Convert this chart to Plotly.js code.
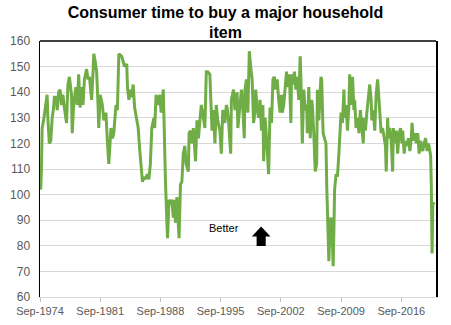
<!DOCTYPE html>
<html>
<head>
<meta charset="utf-8">
<script src="https://cdn.plot.ly/plotly-3.0.1.min.js"></script>
<style>
  html, body { margin: 0; padding: 0; background: #ffffff; }
  #chart { width: 451px; height: 325px; }
</style>
</head>
<body>
<div id="chart"></div>
<script>
const chartTitle = "Consumer time to buy a major household<br>item";
const annotationText = "Better";

const dates = [
  "1974-09","1974-10","1974-11","1974-12","1975-02","1975-04","1975-07","1975-08","1975-10","1975-12",
  "1976-02","1976-04","1976-05","1976-08","1976-09","1976-11","1977-01","1977-03","1977-05","1977-07",
  "1977-10","1977-12","1978-02","1978-05","1978-06","1978-08","1978-11","1979-01","1979-03","1979-05",
  "1979-07","1979-09","1979-11","1980-02","1980-04","1980-06","1980-09","1980-11","1980-12","1981-02",
  "1981-04","1981-06","1981-07","1981-09","1981-12","1982-02","1982-05","1982-07","1982-09","1982-12",
  "1983-02","1983-04","1983-07","1983-09","1983-11","1984-03","1984-05","1984-07","1984-10","1984-11",
  "1985-01","1985-03","1985-05","1985-07","1985-09","1985-11","1986-02","1986-04","1986-06","1986-08",
  "1986-10","1986-12","1987-03","1987-05","1987-07","1987-09","1987-12","1988-01","1988-03","1988-06",
  "1988-08","1988-10","1989-01","1989-02","1989-04","1989-06","1989-07","1989-09","1989-11","1990-01",
  "1990-03","1990-05","1990-06","1990-08","1990-10","1990-11","1991-01","1991-03","1991-05","1991-07",
  "1991-09","1991-12","1992-01","1992-03","1992-05","1992-07","1992-10","1992-12","1993-02","1993-04",
  "1993-06","1993-08","1993-11","1994-01","1994-03","1994-06","1994-07","1994-09","1994-11","1995-01",
  "1995-03","1995-05","1995-08","1995-10","1995-12","1996-03","1996-05","1996-06","1996-08","1996-11",
  "1996-12","1997-03","1997-05","1997-07","1997-08","1997-09","1997-12","1998-02","1998-04","1998-06",
  "1998-07","1998-09","1998-11","1999-01","1999-03","1999-05","1999-07","1999-08","1999-10","1999-12",
  "2000-02","2000-04","2000-06","2000-08","2000-09","2000-11","2001-01","2001-03","2001-04","2001-06",
  "2001-08","2001-10","2001-12","2002-02","2002-04","2002-06","2002-08","2002-10","2002-11","2003-01",
  "2003-03","2003-05","2003-07","2003-09","2003-11","2003-12","2004-02","2004-04","2004-06","2004-08",
  "2004-10","2004-12","2005-01","2005-03","2005-05","2005-07","2005-09","2005-10","2005-12","2006-02",
  "2006-04","2006-05","2006-07","2006-09","2006-11","2006-12","2007-02","2007-05","2007-06","2007-08",
  "2007-10","2007-12","2008-01","2008-03","2008-04","2008-06","2008-07","2008-09","2008-10","2008-11",
  "2008-12","2009-02","2009-04","2009-06","2009-08","2009-09","2009-11","2010-01","2010-02","2010-04",
  "2010-06","2010-08","2010-09","2010-11","2011-01","2011-03","2011-04","2011-06","2011-08","2011-10",
  "2011-12","2012-02","2012-04","2012-05","2012-07","2012-09","2012-11","2013-01","2013-03","2013-04",
  "2013-06","2013-08","2013-10","2013-12","2014-01","2014-03","2014-05","2014-07","2014-09","2014-11",
  "2014-12","2015-02","2015-03","2015-05","2015-07","2015-09","2015-10","2015-12","2016-02","2016-04",
  "2016-06","2016-08","2016-10","2016-11","2017-01","2017-03","2017-05","2017-07","2017-09","2017-11",
  "2017-12","2018-02","2018-04","2018-06","2018-08","2018-10","2018-12","2019-01","2019-03","2019-05",
  "2019-07","2019-09","2019-11","2020-01","2020-02","2020-03","2020-04","2020-05","2020-07"
];

const values = [
  104,102,110,126,129,133,139,130,120,121,
  130,134,138,138,133,140,141,135,139,134,
  128,143,146,139,124,135,142,135,147,134,
  142,135,145,149,145,146,137,148,155,152,
  148,135,126,139,135,129,132,121,112,126,
  122,124,135,133,155,154,152,150,151,142,
  137,141,138,143,134,131,126,118,112,105,
  107,106,108,106,112,126,130,126,139,135,
  139,132,141,125,106,89,83,98,96,98,
  91,98,89,99,87,83,104,105,116,119,
  112,109,124,125,120,126,113,129,122,130,
  135,132,126,148,148,147,141,125,133,120,
  135,129,125,116,133,128,135,134,129,116,
  137,141,133,137,140,126,135,141,134,122,
  141,145,132,156,150,145,128,130,141,133,
  130,137,125,135,113,130,122,109,108,134,
  128,145,146,141,145,137,132,139,132,135,
  143,148,142,147,128,147,143,148,141,146,
  137,154,145,120,141,133,135,124,142,122,
  137,135,124,109,112,141,129,146,145,124,
  122,120,104,86,74,90,91,81,72,86,
  102,108,107,116,128,132,128,141,130,135,
  125,135,147,135,146,133,137,126,130,124,
  133,126,120,130,125,132,137,143,137,129,
  133,125,139,145,141,130,124,126,122,119,
  109,130,122,126,121,109,126,120,125,116,
  124,126,120,125,116,121,119,122,117,122,
  128,121,124,120,124,116,121,119,117,120,
  122,117,120,117,115,103,77,96,97
];

const yTicks = [60, 70, 80, 90, 100, 110, 120, 130, 140, 150, 160];

const trace = {
  x: dates,
  y: values,
  type: "scatter",
  mode: "lines",
  line: { color: "#70AD47", width: 3 },
  hoverinfo: "x+y"
};

const layout = {
  width: 451,
  height: 325,
  margin: { l: 40, r: 15, t: 41, b: 28 },
  paper_bgcolor: "#ffffff",
  plot_bgcolor: "#ffffff",
  showlegend: false,
  font: { family: "Liberation Sans, Arial, sans-serif", color: "#595959" },
  title: {
    text: chartTitle,
    font: { family: "Liberation Sans, Arial, sans-serif", size: 16, color: "#000000", weight: "bold" },
    x: 0.5,
    xanchor: "center",
    xref: "container",
    y: 0.946,
    yanchor: "top",
    yref: "container"
  },
  xaxis: {
    type: "date",
    range: ["1974-09-01", "2020-09-15"],
    tick0: "1974-09-01",
    dtick: "M84",
    tickformat: "%b-%Y",
    ticks: "outside",
    ticklen: 4,
    tickcolor: "#bfbfbf",
    tickfont: { size: 11, color: "#595959" },
    showgrid: false,
    showline: true,
    linecolor: "#d9d9d9",
    linewidth: 1,
    zeroline: false,
    fixedrange: true
  },
  yaxis: {
    range: [60, 160],
    tickvals: yTicks,
    ticks: "",
    tickfont: { size: 12, color: "#595959" },
    ticklabelstandoff: 6,
    showgrid: true,
    gridcolor: "#d9d9d9",
    gridwidth: 1,
    showline: true,
    linecolor: "#000000",
    linewidth: 1.5,
    mirror: true,
    zeroline: false,
    fixedrange: true
  },
  shapes: [
    {
      type: "line", xref: "paper", yref: "paper",
      x0: 0, x1: 1, y0: 1, y1: 1,
      line: { color: "#000000", width: 1.5 }
    },
    {
      type: "path", xref: "paper", yref: "paper",
      path: "M 0.547 0.199 L 0.570 0.199 L 0.570 0.236 L 0.582 0.236 L 0.5585 0.275 L 0.535 0.236 L 0.547 0.236 Z",
      fillcolor: "#000000",
      line: { color: "#000000", width: 0 }
    }
  ],
  annotations: [
    {
      text: annotationText,
      xref: "paper", yref: "paper",
      x: 0.465, y: 0.27,
      xanchor: "center", yanchor: "middle",
      showarrow: false,
      font: { family: "Liberation Sans, Arial, sans-serif", size: 11, color: "#000000" }
    }
  ]
};

Plotly.newPlot("chart", [trace], layout, { displayModeBar: false, staticPlot: true });
</script>
</body>
</html>
